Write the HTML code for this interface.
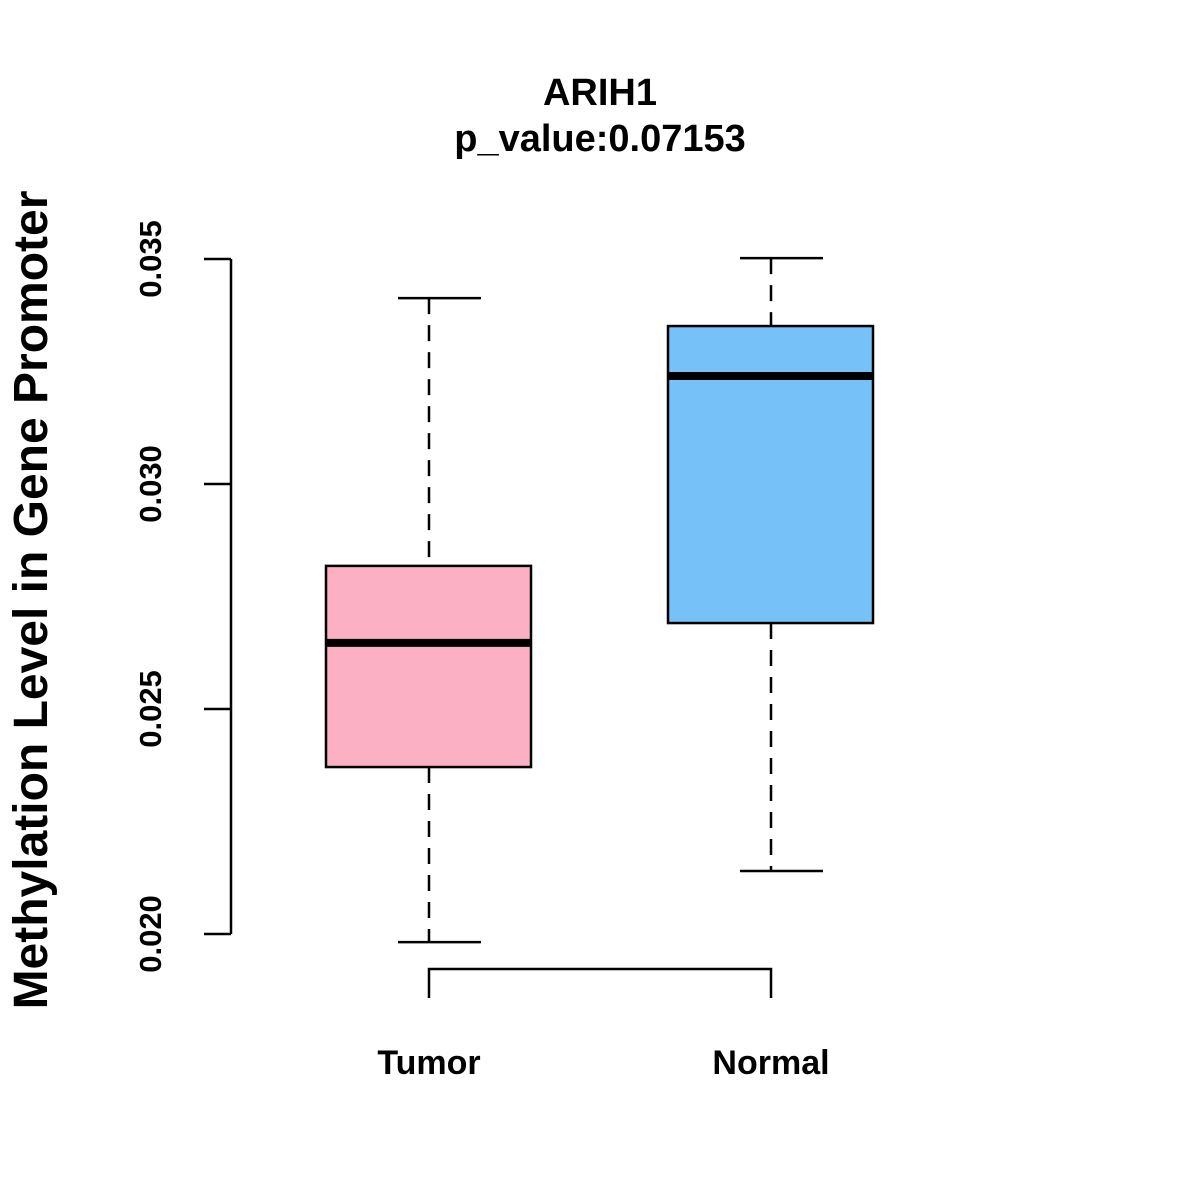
<!DOCTYPE html>
<html><head><meta charset="utf-8"><style>body{margin:0;background:#fff}svg{display:block}text{font-family:"Liberation Sans",Arial,sans-serif;font-weight:bold}</style></head>
<body>
<svg id="c" width="1200" height="1200">
<text x="600" y="105" text-anchor="middle" font-size="38">ARIH1</text>
<text x="600" y="151" text-anchor="middle" font-size="38">p_value:0.07153</text>
<text transform="translate(47,600) rotate(-90)" text-anchor="middle" font-size="48">Methylation Level in Gene Promoter</text>
<g id="yaxis"></g>
<g id="boxes"></g>
</svg>
<script>
const categories=["Tumor","Normal"];
const mins=[0.01982,0.02140];
const q1s=[0.02371,0.02691];
const medians=[0.02647,0.03240];
const q3s=[0.02818,0.03351];
const maxs=[0.03413,0.03502];
const colors=["#fbb1c3","#76c1f8"];
const yTicks=[0.020,0.025,0.030,0.035];
const yTickLabels=["0.020","0.025","0.030","0.035"];
const NS="http://www.w3.org/2000/svg";
function y(v){return 934-(v-0.020)*45000;}
function x(i){return 429+i*342;}
function mk(p,t,a){const e=document.createElementNS(NS,t);for(const k in a)e.setAttribute(k,a[k]);p.appendChild(e);return e;}
const ya=document.getElementById('yaxis');
let l=mk(ya,'line',{x1:231,x2:231,y1:y(yTicks[yTicks.length-1]),y2:y(yTicks[0]),stroke:'#000','stroke-width':2.5});


yTicks.forEach((v,i)=>{
 const t=mk(ya,'line',{x1:204,x2:231,y1:y(v),y2:y(v),stroke:'#000','stroke-width':2.5});
 
 
 const tx=mk(ya,'text',{transform:`translate(161,${y(v)}) rotate(-90)`,'text-anchor':'middle','font-size':31});
 tx.textContent=yTickLabels[i];
 
 
});
const bx=document.getElementById('boxes');
const xa=mk(bx,'path',{d:`M${x(0)},998V969H${x(categories.length-1)}V998`,fill:'none',stroke:'#000','stroke-width':2.5});


categories.forEach((c,i)=>{
 const cx=x(i);
 const g=mk(bx,'g',{});
 
 
 mk(g,'line',{x1:cx,x2:cx,y1:y(maxs[i]),y2:y(q3s[i]),stroke:'#000','stroke-width':2.5,'stroke-dasharray':'16,11'});
 mk(g,'line',{x1:cx,x2:cx,y1:y(q1s[i]),y2:y(mins[i]),stroke:'#000','stroke-width':2.5,'stroke-dasharray':'16,11'});
 mk(g,'line',{x1:cx-31,x2:cx+52,y1:y(maxs[i]),y2:y(maxs[i]),stroke:'#000','stroke-width':2.5});
 mk(g,'line',{x1:cx-31,x2:cx+52,y1:y(mins[i]),y2:y(mins[i]),stroke:'#000','stroke-width':2.5});
 mk(g,'rect',{x:cx-103,y:y(q3s[i]),width:205,height:y(q1s[i])-y(q3s[i]),fill:colors[i],stroke:'#000','stroke-width':2.5});
 mk(g,'line',{x1:cx-103,x2:cx+102,y1:y(medians[i]),y2:y(medians[i]),stroke:'#000','stroke-width':8});
 const t=mk(bx,'text',{x:cx,y:1074,'text-anchor':'middle','font-size':34});
 t.textContent=c;
 
 
});
</script>
</body></html>
